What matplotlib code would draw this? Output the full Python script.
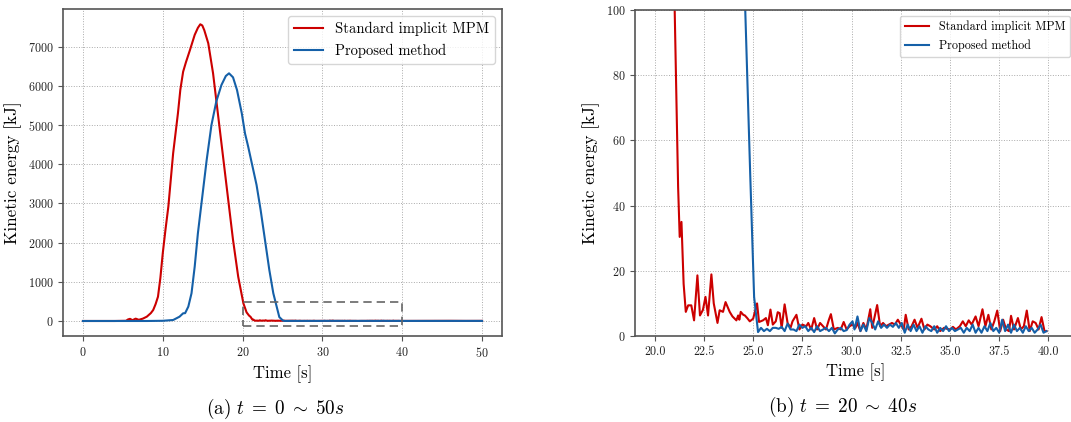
import numpy as np
import matplotlib.pyplot as plt

plt.rcParams['font.family'] = ['cmr10', 'DejaVu Serif']
plt.rcParams['mathtext.fontset'] = 'cm'
plt.rcParams['axes.formatter.use_mathtext'] = True

# ── Kinetic energy histories [kJ] ────────────────────────────────────────────
std_t = [0.0, 2.0, 4.0, 5.4, 5.65, 5.9, 6.2, 6.6, 7.0, 7.5, 8.0, 8.5, 8.8, 9.1,
         9.4, 9.7, 10.0, 10.35, 10.7, 11.0, 11.3, 11.6, 11.9, 12.2, 12.55, 12.9,
         13.4, 14.0, 14.4, 14.7, 14.95, 15.2, 15.7, 16.3, 16.95, 17.6, 18.2,
         18.8, 19.45, 20.1, 20.5, 20.8, 21.0, 21.19, 21.27, 21.36, 21.47, 21.58,
         21.7, 21.86, 22.0, 22.17, 22.3, 22.45, 22.58, 22.71, 22.88, 23.0, 23.19,
         23.3, 23.47, 23.6, 23.81, 23.95, 24.07, 24.15, 24.24, 24.3, 24.37, 24.5,
         24.58, 24.7, 24.83, 25.0, 25.2, 25.3, 25.5, 25.65, 25.75, 25.88, 26.0,
         26.15, 26.25, 26.35, 26.45, 26.6, 26.75, 26.9, 27.0, 27.2, 27.35, 27.5,
         27.7, 27.8, 27.95, 28.1, 28.25, 28.4, 28.55, 28.7, 28.85, 28.95, 29.1,
         29.3, 29.45, 29.6, 29.75, 29.9, 30.05, 30.2, 30.3, 30.45, 30.6, 30.75,
         30.95, 31.05, 31.3, 31.45, 31.6, 31.75, 31.9, 32.05, 32.2, 32.35, 32.5,
         32.65, 32.75, 32.9, 33.05, 33.2, 33.35, 33.55, 33.7, 33.85, 34.0, 34.2,
         34.35, 34.5, 34.7, 34.85, 35.0, 35.15, 35.3, 35.5, 35.65, 35.8, 35.95,
         36.1, 36.3, 36.45, 36.65, 36.8, 36.95, 37.1, 37.25, 37.4, 37.55, 37.7,
         37.85, 38.0, 38.1, 38.25, 38.45, 38.6, 38.75, 38.9, 39.05, 39.2, 39.35,
         39.5, 39.65, 39.8, 39.9, 42.0, 44.0, 46.0, 48.0, 50.0]
std_ke = [0, 0, 0, 5, 40, 55, 20, 60, 30, 60, 110, 200, 280, 430,
          620, 1100, 1730, 2350, 2920, 3600, 4280, 4800, 5300, 5900, 6360, 6600,
          6910, 7300, 7480, 7570, 7540, 7420, 7085, 6320, 5210, 4110, 3090,
          2070, 1130, 450, 220, 140, 105, 45.7, 30.4, 35, 16, 7.4,
          9.4, 9.4, 4.8, 18.6, 6.3, 8, 12, 6.3, 18.9, 10, 4,
          7.9, 7.4, 10.4, 7.4, 6, 5.3, 4.8, 6.3, 5, 7.4, 6.5,
          6.3, 5.5, 4.5, 5.3, 10, 4.3, 4.8, 5.5, 3.3, 8.1, 3.5,
          4.5, 7.3, 7, 2.5, 9.7, 4, 2.5, 4.5, 6.5, 2, 3.5,
          3, 4, 2, 5.5, 2, 4, 3, 2, 5, 6.7, 2,
          2.5, 2, 4.3, 2, 3, 3.5, 2.5, 4, 1.5, 4, 2,
          8.2, 2.5, 9.5, 3, 4, 3, 3.5, 4, 3.5, 5, 3.5,
          2, 6.5, 2, 3, 5, 2.5, 5.3, 2, 3.5, 3, 2,
          3, 1.5, 2.5, 2.2, 2, 2.8, 2, 3, 4.5, 3, 4.8,
          3.5, 6, 3, 8.2, 3, 6.5, 2, 4.5, 7.8, 1.5, 5,
          2, 1.5, 6.2, 2, 5.5, 2, 3, 7.8, 1.5, 4.5, 4,
          2, 5.8, 1.5, 1.5, 3, 2, 4, 2, 3]

prop_t = [0.0, 4.0, 8.0, 10.0, 11.3, 12.1, 12.55, 12.8, 13.2, 13.6, 14.0, 14.4,
          14.85, 15.5, 16.1, 16.7, 17.35, 17.9, 18.3, 18.8, 19.3, 19.9, 20.3,
          20.7, 21.25, 21.75, 22.26, 22.8, 23.35, 23.85, 24.2, 24.4, 24.6,
          24.85, 25.05, 25.25, 25.4, 25.55, 25.7, 25.85, 26.0, 26.15, 26.3,
          26.45, 26.6, 26.75, 26.9, 27.05, 27.2, 27.35, 27.5, 27.65, 27.8,
          27.95, 28.1, 28.25, 28.4, 28.55, 28.7, 28.85, 29.0, 29.15, 29.3,
          29.45, 29.6, 29.75, 29.9, 30.05, 30.15, 30.3, 30.45, 30.6, 30.75,
          30.9, 31.05, 31.2, 31.35, 31.5, 31.65, 31.8, 31.95, 32.1, 32.25,
          32.4, 32.55, 32.7, 32.85, 33.0, 33.15, 33.3, 33.45, 33.6, 33.75,
          33.9, 34.05, 34.2, 34.35, 34.5, 34.65, 34.8, 34.95, 35.1, 35.25,
          35.4, 35.55, 35.7, 35.85, 36.0, 36.15, 36.3, 36.45, 36.6, 36.75,
          36.9, 37.05, 37.2, 37.35, 37.5, 37.65, 37.8, 37.95, 38.1, 38.25,
          38.4, 38.55, 38.7, 38.85, 39.0, 39.15, 39.3, 39.45, 39.6, 39.75,
          39.9, 42.0, 44.0, 46.0, 48.0, 50.0]
prop_ke = [0, 0, 0, 5, 25, 110, 196, 200, 366, 706, 1386, 2237,
           3000, 4108, 5001, 5596, 6021, 6251, 6319, 6217, 5894, 5298, 4788,
           4448, 3938, 3470, 2832, 2067, 1301, 706, 420, 260, 100,
           50, 12, 1.2, 2.5, 1.5, 2.2, 1.5, 2.5, 2.5, 2.2,
           2.8, 1.5, 3.8, 2, 2, 1.5, 3.5, 2.5, 3, 1.5,
           2.5, 1.2, 3, 1.5, 2, 2.5, 1.5, 2.5, 0.8, 2,
           2.5, 1.5, 1.8, 3.5, 4.5, 2, 6, 1.5, 3.5, 1.5,
           5.5, 4, 2, 4.5, 2.5, 3.5, 2.5, 3.5, 2.8, 4,
           2.5, 4, 1, 3.5, 1.5, 3.5, 1.5, 3, 1, 3,
           2, 1.5, 3, 1, 2.5, 1.5, 3, 1.5, 2.5, 1.5,
           2, 2.5, 1, 2.5, 1.5, 3.5, 1, 2.5, 1, 3,
           1.5, 4, 1.5, 2.5, 1, 5, 1.5, 3.5, 1, 3.5,
           1.5, 2.5, 1, 3, 1.5, 2.5, 1, 2, 3.5, 1,
           1.5, 2, 1.5, 2, 1.5, 2]

# close-up window drawn as a dashed box on the full history
zoom_t = [20, 40]
zoom_ke = [-130, 480]

red = '#CC0000'
blue = '#1560A8'
spine_col = '#555555'


def style_axes(ax):
    for s in ax.spines.values():
        s.set_color(spine_col)
        s.set_linewidth(1.2)
    ax.tick_params(direction='out', length=3.5, width=0.8, color=spine_col,
                   labelsize=8.7, labelcolor='#222222')
    ax.grid(True, color='#aaaaaa', linestyle=':', linewidth=0.7)
    ax.set_axisbelow(True)
    ax.set_xlabel('Time [s]', fontsize=12)
    ax.set_ylabel('Kinetic energy [kJ]', fontsize=12.4)


fig = plt.figure(figsize=(10.71, 4.22), dpi=100)

# ── (a) full history ─────────────────────────────────────────────────────────
ax1 = fig.add_axes([63 / 1071, 86 / 422, 439 / 1071, 327 / 422])
ax1.plot(std_t, std_ke, color=red, lw=1.5, label='Standard implicit MPM')
ax1.plot(prop_t, prop_ke, color=blue, lw=1.5, label='Proposed method')
ax1.plot([zoom_t[0], zoom_t[1], zoom_t[1], zoom_t[0], zoom_t[0]],
         [zoom_ke[0], zoom_ke[0], zoom_ke[1], zoom_ke[1], zoom_ke[0]],
         color='#666666', ls='--', lw=1.2, dashes=(5, 3))
ax1.set_xlim(-2.5, 52.5)
ax1.set_ylim(-383, 7960)
ax1.set_xticks([0, 10, 20, 30, 40, 50])
ax1.set_yticks(np.arange(0, 7001, 1000))
style_axes(ax1)
ax1.legend(loc='upper right', fontsize=10.5, handlelength=2.0)

# ── (b) close-up of the tail, only the 20-40 s window ────────────────────────
st, sk = np.array(std_t), np.array(std_ke)
pt, pk = np.array(prop_t), np.array(prop_ke)
ms = (st >= zoom_t[0]) & (st <= zoom_t[1])
mp = (pt >= zoom_t[0]) & (pt <= zoom_t[1])

ax2 = fig.add_axes([635 / 1071, 86 / 422, 441 / 1071, 326 / 422])
ax2.plot(st[ms], sk[ms], color=red, lw=1.5, label='Standard implicit MPM')
ax2.plot(pt[mp], pk[mp], color=blue, lw=1.5, label='Proposed method')
ax2.set_xlim(19.0, 41.4)
ax2.set_ylim(0, 100)
ticks_b = np.arange(20, 40.1, 2.5)
ax2.set_xticks(ticks_b)
ax2.set_xticklabels([f'{v:.1f}' for v in ticks_b])
ax2.set_yticks(np.arange(0, 101, 20))
style_axes(ax2)
ax2.legend(loc='upper right', fontsize=8.7, handlelength=2.0)

fig.text(275 / 1071, 1 - 409 / 422, r'(a) $t\;=\;0\;\sim\;50s$',
         ha='center', va='center', fontsize=13.8)
fig.text(843 / 1071, 1 - 407 / 422, r'(b) $t\;=\;20\;\sim\;40s$',
         ha='center', va='center', fontsize=13.8)

fig.savefig('out.png', dpi=100)
